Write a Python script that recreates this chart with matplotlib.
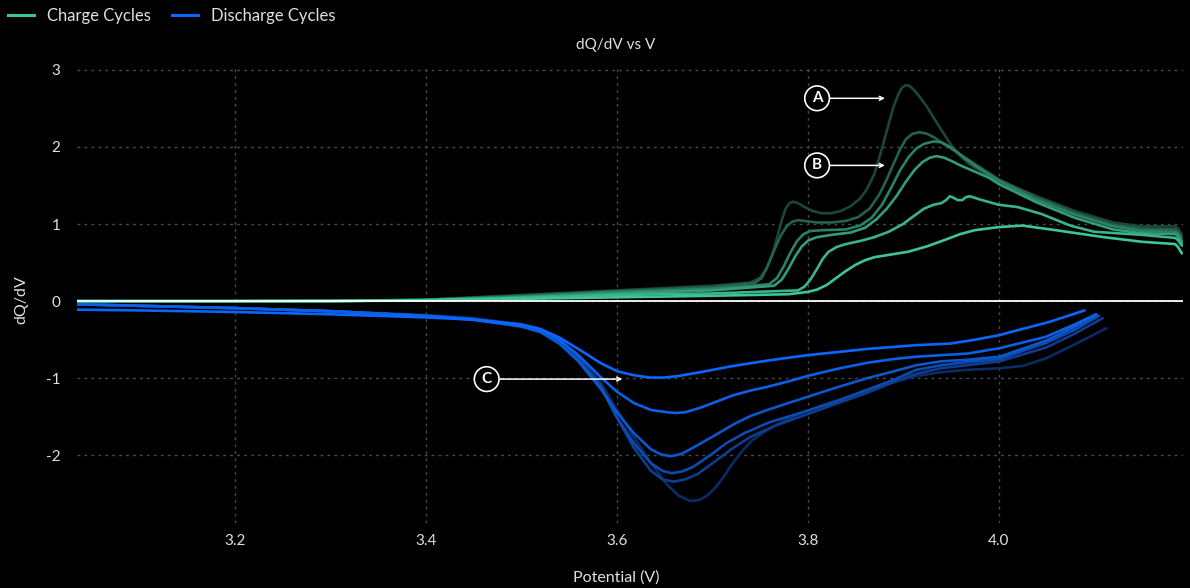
import matplotlib
matplotlib.use("Agg")
import matplotlib.pyplot as plt

plt.rcParams['font.family'] = ['Lato', 'DejaVu Sans']
plt.rcParams['axes.unicode_minus'] = False

# charge cycles: potential (V) and dQ/dV, first cycle first
charge_v = [
    [3.035, 3.2, 3.3, 3.4, 3.5, 3.6, 3.7, 3.74, 3.75, 3.757, 3.763, 3.768, 3.773, 3.777, 3.781, 3.785,
     3.79, 3.797, 3.805, 3.815, 3.825, 3.835, 3.845, 3.855, 3.862, 3.87, 3.878, 3.885, 3.89, 3.895,
     3.899, 3.903, 3.907, 3.912, 3.918, 3.925, 3.94, 3.955, 3.97, 3.985, 4.0, 4.04, 4.08, 4.12,
     4.15, 4.185, 4.188, 4.192],
    [3.035, 3.2, 3.3, 3.4, 3.5, 3.6, 3.7, 3.745, 3.752, 3.758, 3.765, 3.772, 3.778, 3.784, 3.79,
     3.797, 3.81, 3.825, 3.84, 3.853, 3.865, 3.875, 3.883, 3.89, 3.897, 3.903, 3.91, 3.917, 3.925,
     3.933, 3.94, 3.955, 3.97, 3.985, 4.0, 4.04, 4.08, 4.12, 4.15, 4.185, 4.188, 4.192],
    [3.035, 3.2, 3.3, 3.4, 3.5, 3.6, 3.7, 3.76, 3.768, 3.775, 3.782, 3.789, 3.796, 3.803, 3.815,
     3.84, 3.855, 3.867, 3.878, 3.888, 3.897, 3.906, 3.914, 3.922, 3.932, 3.94, 3.948, 3.955, 3.965,
     3.975, 3.99, 4.0, 4.04, 4.08, 4.12, 4.15, 4.185, 4.188, 4.192],
    [3.035, 3.2, 3.3, 3.4, 3.5, 3.6, 3.7, 3.765, 3.773, 3.78, 3.787, 3.794, 3.801, 3.81, 3.825,
     3.845, 3.86, 3.872, 3.883, 3.893, 3.903, 3.912, 3.92, 3.928, 3.935, 3.943, 3.952, 3.96, 3.975,
     3.99, 4.0, 4.04, 4.08, 4.12, 4.15, 4.185, 4.188, 4.192],
    [3.035, 3.2, 3.3, 3.4, 3.5, 3.6, 3.7, 3.79, 3.797, 3.803, 3.81, 3.816, 3.822, 3.83, 3.84, 3.855,
     3.87, 3.885, 3.9, 3.912, 3.922, 3.932, 3.94, 3.945, 3.949, 3.953, 3.957, 3.962, 3.966, 3.97,
     3.98, 4.0, 4.02, 4.045, 4.075, 4.1, 4.15, 4.185, 4.188, 4.192],
    [3.035, 3.2, 3.3, 3.4, 3.5, 3.6, 3.7, 3.78, 3.8, 3.81, 3.82, 3.83, 3.84, 3.85, 3.86, 3.87, 3.885,
     3.905, 3.925, 3.945, 3.96, 3.975, 4.0, 4.025, 4.06, 4.11, 4.15, 4.185, 4.188, 4.192],
]
charge_dqdv = [
    [0.0, 0.0, 0.003, 0.02, 0.08, 0.14, 0.2, 0.24, 0.3, 0.42, 0.6, 0.82, 1.05, 1.2, 1.27, 1.29,
     1.27, 1.22, 1.17, 1.14, 1.14, 1.17, 1.23, 1.33, 1.45, 1.65, 1.98, 2.3, 2.52, 2.68,
     2.77, 2.8, 2.79, 2.73, 2.64, 2.52, 2.22, 1.94, 1.77, 1.66, 1.57, 1.36, 1.17, 1.02,
     0.97, 0.97, 0.94, 0.86],
    [0.0, 0.0, 0.003, 0.018, 0.07, 0.13, 0.18, 0.24, 0.3, 0.45, 0.66, 0.85, 0.97, 1.03, 1.05,
     1.04, 1.02, 1.02, 1.04, 1.09, 1.2, 1.38, 1.58, 1.78, 1.97, 2.1, 2.17, 2.19, 2.17,
     2.12, 2.06, 1.94, 1.82, 1.7, 1.58, 1.34, 1.14, 0.99, 0.94, 0.93, 0.9, 0.82],
    [0.0, 0.0, 0.002, 0.016, 0.06, 0.12, 0.16, 0.22, 0.3, 0.45, 0.63, 0.78, 0.87, 0.91, 0.92,
     0.93, 0.98, 1.08, 1.25, 1.48, 1.7, 1.87, 1.98, 2.04, 2.07, 2.06, 2.01, 1.95, 1.85,
     1.76, 1.64, 1.56, 1.31, 1.12, 0.97, 0.91, 0.9, 0.87, 0.78],
    [0.0, 0.0, 0.002, 0.014, 0.05, 0.1, 0.14, 0.2, 0.28, 0.42, 0.58, 0.71, 0.79, 0.83, 0.86,
     0.89, 0.95, 1.06, 1.2, 1.36, 1.55, 1.7, 1.8, 1.86, 1.88, 1.86, 1.81, 1.76, 1.68,
     1.6, 1.52, 1.28, 1.08, 0.93, 0.88, 0.87, 0.84, 0.75],
    [0.0, 0.0, 0.002, 0.012, 0.04, 0.08, 0.1, 0.14, 0.19, 0.28, 0.42, 0.55, 0.64, 0.7, 0.74, 0.78,
     0.83, 0.9, 1.0, 1.11, 1.2, 1.25, 1.27, 1.31, 1.36, 1.34, 1.31, 1.31, 1.35, 1.36,
     1.32, 1.25, 1.22, 1.13, 0.98, 0.9, 0.86, 0.82, 0.79, 0.72],
    [0.0, 0.0, 0.001, 0.01, 0.03, 0.05, 0.07, 0.09, 0.12, 0.15, 0.21, 0.3, 0.39, 0.47, 0.53, 0.57, 0.6,
     0.64, 0.71, 0.8, 0.87, 0.92, 0.96, 0.98, 0.92, 0.83, 0.77, 0.74, 0.7, 0.62],
]

# discharge cycles, first cycle first
discharge_v = [
    [3.035, 3.1, 3.2, 3.3, 3.4, 3.45, 3.5, 3.52, 3.54, 3.56, 3.583, 3.6, 3.618, 3.636, 3.653, 3.665,
     3.677, 3.686, 3.695, 3.704, 3.712, 3.72, 3.729, 3.742, 3.758, 3.775, 3.792, 3.82, 3.862, 3.89,
     3.914, 3.94, 3.967, 4.001, 4.025, 4.05, 4.083, 4.113],
    [3.035, 3.1, 3.2, 3.3, 3.4, 3.45, 3.5, 3.52, 3.54, 3.56, 3.583, 3.6, 3.618, 3.636, 3.648, 3.66,
     3.672, 3.685, 3.705, 3.72, 3.74, 3.765, 3.792, 3.83, 3.862, 3.89, 3.914, 3.94, 3.967, 4.001,
     4.05, 4.08, 4.109],
    [3.035, 3.1, 3.2, 3.3, 3.4, 3.45, 3.5, 3.52, 3.54, 3.56, 3.583, 3.6, 3.618, 3.636, 3.648, 3.658,
     3.668, 3.68, 3.7, 3.715, 3.734, 3.76, 3.792, 3.83, 3.862, 3.89, 3.914, 3.94, 3.967, 4.001,
     4.05, 4.08, 4.105],
    [3.035, 3.1, 3.2, 3.3, 3.4, 3.45, 3.5, 3.52, 3.54, 3.56, 3.583, 3.601, 3.618, 3.636, 3.647,
     3.657, 3.668, 3.68, 3.7, 3.722, 3.74, 3.758, 3.78, 3.8, 3.83, 3.862, 3.89, 3.914, 3.94, 3.967,
     4.001, 4.05, 4.08, 4.103],
    [3.035, 3.1, 3.2, 3.3, 3.4, 3.45, 3.5, 3.52, 3.54, 3.56, 3.583, 3.6, 3.618, 3.636, 3.653, 3.662,
     3.672, 3.688, 3.705, 3.722, 3.74, 3.758, 3.78, 3.8, 3.83, 3.862, 3.89, 3.914, 3.94, 3.967,
     4.001, 4.05, 4.08, 4.102],
    [3.035, 3.1, 3.2, 3.3, 3.4, 3.45, 3.5, 3.52, 3.54, 3.56, 3.583, 3.601, 3.618, 3.635, 3.65, 3.665,
     3.688, 3.722, 3.758, 3.8, 3.862, 3.914, 3.949, 3.975, 4.001, 4.025, 4.053, 4.09],
]
discharge_dqdv = [
    [-0.04, -0.06, -0.09, -0.13, -0.18, -0.22, -0.3, -0.37, -0.5, -0.72, -1.05, -1.4, -1.76, -2.1,
     -2.38, -2.52, -2.59, -2.58, -2.52, -2.41, -2.28, -2.13, -1.98, -1.8, -1.67, -1.55, -1.46,
     -1.33, -1.16, -1.05, -0.97, -0.92, -0.89, -0.87, -0.84, -0.74, -0.54, -0.35],
    [-0.04, -0.06, -0.09, -0.13, -0.19, -0.23, -0.31, -0.38, -0.52, -0.74, -1.08, -1.5, -1.9, -2.2,
     -2.31, -2.34, -2.31, -2.24, -2.06, -1.92, -1.76, -1.62, -1.5, -1.33, -1.19, -1.05, -0.94,
     -0.87, -0.83, -0.78, -0.6, -0.42, -0.22],
    [-0.04, -0.06, -0.09, -0.13, -0.19, -0.23, -0.32, -0.39, -0.53, -0.75, -1.1, -1.5, -1.84, -2.1,
     -2.2, -2.23, -2.21, -2.15, -1.98, -1.84, -1.71, -1.57, -1.45, -1.3, -1.15, -1.02, -0.89,
     -0.83, -0.79, -0.75, -0.54, -0.37, -0.19],
    [-0.04, -0.06, -0.09, -0.13, -0.19, -0.24, -0.33, -0.4, -0.55, -0.78, -1.13, -1.45, -1.71,
     -1.92, -1.99, -2.01, -1.98, -1.9, -1.76, -1.6, -1.49, -1.41, -1.32, -1.24, -1.12, -1.0,
     -0.91, -0.83, -0.78, -0.76, -0.72, -0.51, -0.33, -0.18],
    [-0.04, -0.06, -0.09, -0.13, -0.19, -0.24, -0.32, -0.38, -0.5, -0.7, -0.98, -1.17, -1.32,
     -1.41, -1.44, -1.45, -1.44, -1.38, -1.3, -1.22, -1.16, -1.11, -1.04, -0.97, -0.88, -0.8,
     -0.75, -0.72, -0.7, -0.68, -0.61, -0.46, -0.3, -0.17],
    [-0.11, -0.12, -0.14, -0.17, -0.21, -0.24, -0.3, -0.36, -0.47, -0.62, -0.8, -0.91, -0.96,
     -0.99, -0.99, -0.97, -0.92, -0.84, -0.77, -0.7, -0.62, -0.57, -0.55, -0.5, -0.44, -0.36,
     -0.27, -0.12],
]

charge_colors = ['#1d463a', '#236250', '#2b8166', '#329c7b', '#39b48d', '#3ec49a']
discharge_colors = ['#0a2c66', '#0c3d8e', '#0d4bb0', '#0d57cd', '#0b60e8', '#0a66ff']

# annotation markers: label, text position, arrow tip
marks = [('A', (3.810, 2.63), (3.881, 2.63)),
         ('B', (3.810, 1.76), (3.881, 1.76)),
         ('C', (3.464, -1.01), (3.606, -1.01))]

fig = plt.figure(figsize=(11.9, 5.88), dpi=100, facecolor='black')
ax = fig.add_axes([0.0647, 0.1105, 0.9293, 0.7735])
ax.set_facecolor('black')

for v, d, c in zip(charge_v, charge_dqdv, charge_colors):
    ax.plot(v, d, color=c, lw=1.9, solid_capstyle='round', solid_joinstyle='round', zorder=3)
for v, d, c in zip(discharge_v, discharge_dqdv, discharge_colors):
    ax.plot(v, d, color=c, lw=1.9, solid_capstyle='round', solid_joinstyle='round', zorder=3)

ax.axhline(0, color='white', lw=1.3, zorder=4)

for label, pos, tip in marks:
    ax.annotate(label, xy=tip, xytext=pos, color='white', fontsize=11, fontweight='bold',
                ha='center', va='center', zorder=6,
                bbox=dict(boxstyle='circle,pad=0.35', fc='black', ec='white', lw=1.2),
                arrowprops=dict(arrowstyle='->', color='white', lw=1.1,
                                mutation_scale=7, shrinkA=0, shrinkB=0))

ax.set_xlim(3.035, 4.193)
ax.set_ylim(-2.876, 3.02)
ax.set_xticks([3.2, 3.4, 3.6, 3.8, 4.0])
ax.set_yticks([-2, -1, 0, 1, 2, 3])
ax.grid(True, color='#4a4a4a', ls=(0, (2, 3)), lw=1)
for s in ax.spines.values():
    s.set_visible(False)
ax.tick_params(colors='#e0e0e0', labelsize=11, length=0)
ax.tick_params(axis='x', pad=8)
ax.tick_params(axis='y', pad=12)

fig.text(0.5176, 0.923, 'dQ/dV vs V', color='#e0e0e0', fontsize=11, ha='center', va='center')
fig.text(0.5176, 0.018, 'Potential (V)', color='#e0e0e0', fontsize=11.5, ha='center', va='center')
fig.text(0.018, 0.49, 'dQ/dV', color='#e0e0e0', fontsize=11.5, ha='center', va='center',
         rotation=90)

handles = [plt.Line2D([], [], color='#3ec49a', lw=2.2),
           plt.Line2D([], [], color='#0a66ff', lw=2.2)]
fig.legend(handles, ['Charge Cycles', 'Discharge Cycles'], loc='upper left',
           bbox_to_anchor=(0.0, 1.0), ncol=2, frameon=False, fontsize=12,
           labelcolor='#e0e0e0', handlelength=1.55, columnspacing=1.3, handletextpad=0.75,
           borderpad=0.2, borderaxespad=0.3)

fig.savefig('out.png', dpi=100, facecolor='black')
